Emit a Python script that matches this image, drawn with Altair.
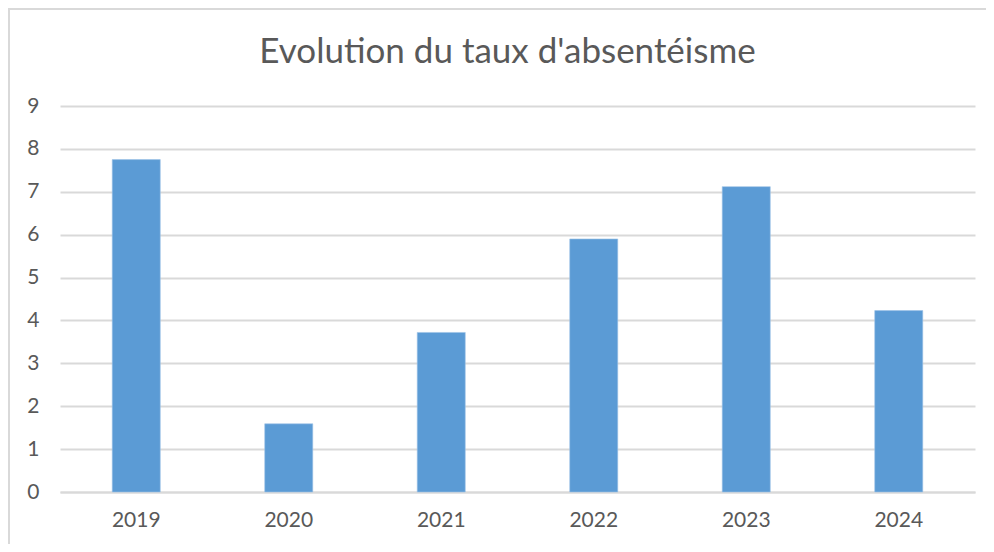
import altair as alt
import pandas as pd

years = ["2019", "2020", "2021", "2022", "2023", "2024"]
rates = [7.75, 1.59, 3.72, 5.9, 7.12, 4.23]
title_text = "Evolution du taux d'absentéisme"

df = pd.DataFrame({"year": years, "rate": rates})

font = "Lato"
grey = "#595959"

bars = alt.Chart(df).mark_bar(color="#5B9BD5", stroke="#9DC3E6", strokeWidth=0.6).encode(
    x=alt.X("year:N", sort=years, title=None,
            scale=alt.Scale(paddingInner=0.685, paddingOuter=0.3425),
            axis=alt.Axis(labelAngle=0, labelFont=font, labelFontSize=21, labelColor=grey,
                          labelPadding=17, ticks=False, domain=True, domainColor="#d9d9d9",
                          domainWidth=2)),
    y=alt.Y("rate:Q", title=None,
            scale=alt.Scale(domain=[0, 9], nice=False),
            axis=alt.Axis(values=list(range(10)), labelFont=font, labelFontSize=21, labelColor=grey,
                          labelPadding=21, ticks=False, domain=False, gridColor="#d9d9d9",
                          gridWidth=2)),
)

title = alt.Chart(pd.DataFrame({"t": [title_text]})).mark_text(
    font=font, fontSize=35, color=grey, align="center", baseline="alphabetic"
).encode(text="t:N", x=alt.value(447.5), y=alt.value(-43))

frame_top = alt.Chart(df).mark_rule(color="#d9d9d9", strokeWidth=4).encode(
    x=alt.value(-52), x2=alt.value(930), y=alt.value(-98)
)
frame_left = alt.Chart(df).mark_rule(color="#d9d9d9", strokeWidth=4).encode(
    x=alt.value(-52), y=alt.value(-98), y2=alt.value(438)
)

chart = alt.layer(bars, title, frame_top, frame_left).properties(
    width=915,
    height=386,
    autosize=alt.AutoSizeParams(type="none"),
    padding={"left": 52, "top": 98, "right": 11, "bottom": 52},
    background="white",
).configure_view(strokeWidth=0)

chart.save("out.html", embed_options={"renderer": "svg", "actions": False})
